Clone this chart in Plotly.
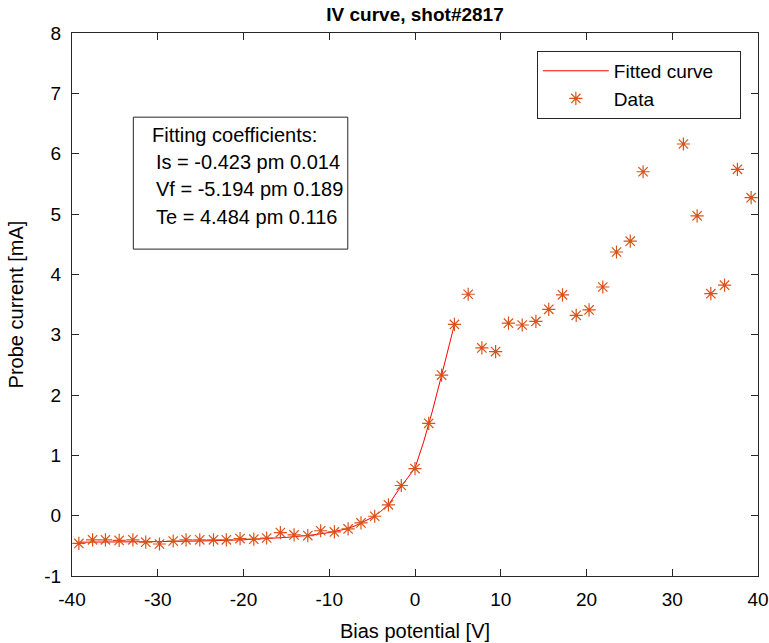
import plotly.graph_objects as go

# Measured data (Bias potential [V], Probe current [mA])
bias_v = [-39.2, -37.6, -36.1, -34.5, -32.9, -31.4, -29.8, -28.2, -26.7, -25.1,
          -23.5, -22.0, -20.4, -18.8, -17.3, -15.7, -14.1, -12.5, -11.0, -9.4,
          -7.8, -6.3, -4.7, -3.1, -1.6, 0.0, 1.6, 3.1, 4.6, 6.2,
          7.8, 9.4, 10.9, 12.5, 14.1, 15.6, 17.2, 18.8, 20.3, 21.9,
          23.5, 25.1, 26.6, 31.3, 32.9, 34.5, 36.1, 37.6, 39.2]
current_ma = [-0.46, -0.40, -0.40, -0.41, -0.40, -0.44, -0.47, -0.42, -0.40, -0.40,
              -0.40, -0.40, -0.38, -0.39, -0.37, -0.28, -0.32, -0.33, -0.25, -0.27,
              -0.22, -0.12, -0.01, 0.18, 0.50, 0.78, 1.53, 2.33, 3.17, 3.67,
              2.78, 2.72, 3.19, 3.16, 3.22, 3.42, 3.66, 3.32, 3.41, 3.79,
              4.37, 4.55, 5.70, 6.16, 4.97, 3.68, 3.82, 5.74, 5.27]

# Fitted curve
fit_v = [-39.2, -35, -30, -25, -20, -15, -12, -10, -8, -7, -6, -5, -4, -3, -2, -1,
         0, 1, 2, 3, 4, 4.6]
fit_i = [-0.44, -0.43, -0.43, -0.42, -0.40, -0.36, -0.32, -0.28, -0.22, -0.17, -0.10,
         -0.03, 0.07, 0.20, 0.41, 0.60, 0.79, 1.22, 1.72, 2.27, 2.83, 3.17]

x_ticks = [-40, -30, -20, -10, 0, 10, 20, 30, 40]
x_ticklabels = ["-40", "-30", "-20", "-10", "0", "10", "20", "30", "40"]
y_ticks = [-1, 0, 1, 2, 3, 4, 5, 6, 7, 8]
y_ticklabels = ["-1", "0", "1", "2", "3", "4", "5", "6", "7", "8"]

coef_lines = ["Fitting coefficients:",
              "Is = -0.423 pm 0.014",
              "Vf = -5.194 pm 0.189",
              "Te = 4.484 pm 0.116"]

FONT = "Liberation Sans, Arial, Helvetica, sans-serif"
AX = "#262626"
PAD = "\u00a0" * 4

fig = go.Figure()
fig.add_trace(go.Scatter(x=fit_v, y=fit_i, mode="lines", name="Fitted curve" + PAD,
                         line=dict(color="#FF0000", width=1)))
fig.add_trace(go.Scatter(x=bias_v, y=current_ma, mode="markers", name="Data",
                         marker=dict(symbol="asterisk-open", size=11,
                                     line=dict(color="#D95319", width=1.2),
                                     color="#D95319")))

axis_common = dict(showgrid=False, zeroline=False, showline=True, linecolor=AX,
                   linewidth=1, mirror="allticks", ticks="inside", ticklen=7,
                   tickcolor=AX, tickwidth=1, ticklabelstandoff=6,
                   automargin=False,
                   tickfont=dict(family=FONT, size=19, color="#000000"))

fig.update_layout(
    width=769, height=643,
    margin=dict(l=72, r=11, t=33, b=67),
    paper_bgcolor="white", plot_bgcolor="white",
    title=dict(text="<b>IV curve, shot#2817</b>", x=0.5, xref="paper",
               xanchor="center", y=1 - 14 / 643, yanchor="middle",
               font=dict(family=FONT, size=19, color="#000000")),
    xaxis=dict(range=[-40, 40], tickvals=x_ticks, ticktext=x_ticklabels,
               title=dict(text="Bias potential [V]",
                          font=dict(family=FONT, size=20, color="#000000")),
               **axis_common),
    yaxis=dict(range=[-1, 8], tickvals=y_ticks, ticktext=y_ticklabels,
               title=dict(text="Probe current [mA]",
                          font=dict(family=FONT, size=20, color="#000000")),
               **axis_common),
    legend=dict(x=0.975, y=0.967, xanchor="right", yanchor="top",
                bgcolor="white", bordercolor=AX, borderwidth=1,
                itemwidth=66, tracegroupgap=0,
                font=dict(family=FONT, size=19, color="#000000")),
    showlegend=True,
)

# Text box with fit coefficients
fig.add_shape(type="rect", xref="paper", yref="paper",
              x0=0.0894, x1=0.402, y0=0.602, y1=0.845,
              line=dict(color=AX, width=1), fillcolor="white", layer="above")
y_pos = [0.812, 0.763, 0.713, 0.662]
x_pos = [0.113, 0.119, 0.119, 0.119]
for t, xp, yp in zip(coef_lines, x_pos, y_pos):
    fig.add_annotation(text=t, xref="paper", yref="paper", x=xp, y=yp,
                       xanchor="left", yanchor="middle", showarrow=False,
                       font=dict(family=FONT, size=20, color="#000000"))

fig.write_html("out.html")
